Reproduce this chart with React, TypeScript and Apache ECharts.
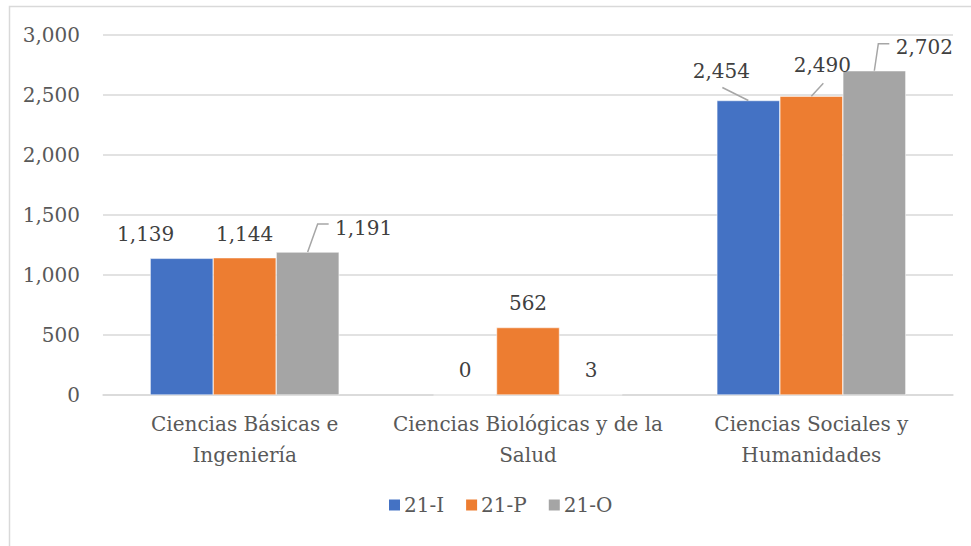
import React, { useEffect, useRef } from "react";
import * as echarts from "echarts";

const categories = [
  "Ciencias Básicas e\nIngeniería",
  "Ciencias Biológicas y de la\nSalud",
  "Ciencias Sociales y\nHumanidades",
];
const seriesNames = ["21-I", "21-P", "21-O"];
const values21I = [1139, 0, 2454];
const values21P = [1144, 562, 2490];
const values21O = [1191, 3, 2702];
const yTicks = [0, 500, 1000, 1500, 2000, 2500, 3000];

const colors = ["#4472C4", "#ED7D31", "#A5A5A5"];
// label offsets (dx, dy) per series / category, like manually moved Excel labels
const labelOffsets = [
  [[-36, 1], [0, 0], [-27, -5]],
  [[0, 1], [0, 0], [11, -6]],
  [[56, 1], [0, 0], [50, 1]],
];
// leader line shapes, relative to the top centre of the bar: [series, category, points]
const leaders: [number, number, number[][]][] = [
  [2, 0, [[0, 0], [10, -28], [21, -28]]],
  [0, 2, [[0, 0], [-26, -13]]],
  [1, 2, [[0, 0], [12, -13]]],
  [2, 2, [[0, 0], [4, -27], [15, -27]]],
];

const FONT = "DejaVu Serif";
const TEXT = "#595959";
const FS = 20;
const CAT_GAP = 0.333;

export default function App() {
  const ref = useRef<HTMLDivElement>(null);
  useEffect(() => {
    document.body.style.margin = "0";
    const chart = echarts.init(ref.current!, null, { renderer: "svg" });
    const all = [values21I, values21P, values21O];
    chart.setOption({
      animation: false,
      backgroundColor: "#fff",
      graphic: [
        {
          id: "border",
          type: "rect",
          shape: { x: 9.5, y: 6.5, width: 1000, height: 1000 },
          style: { fill: "none", stroke: "#D9D9D9", lineWidth: 1.5 },
          silent: true,
        },
      ],
      grid: { left: 103, right: 18, top: 35, bottom: 151 },
      legend: {
        data: seriesNames,
        bottom: 26,
        left: 382,
        itemWidth: 13,
        itemHeight: 13,
        itemGap: 20,
        icon: "rect",
        textStyle: { fontFamily: FONT, fontSize: FS, color: TEXT, padding: [0, 0, 0, -2] },
      },
      xAxis: {
        type: "category",
        data: categories,
        axisTick: { show: false },
        axisLine: { lineStyle: { color: "#D9D9D9", width: 1.5 } },
        axisLabel: {
          fontFamily: FONT,
          fontSize: FS,
          color: TEXT,
          lineHeight: 31,
          margin: 13,
          interval: 0,
        },
      },
      yAxis: {
        type: "value",
        min: yTicks[0],
        max: yTicks[yTicks.length - 1],
        interval: 500,
        axisLine: { show: false },
        axisTick: { show: false },
        splitLine: { lineStyle: { color: "#D9D9D9", width: 1.5 } },
        axisLabel: {
          fontFamily: FONT,
          fontSize: FS,
          color: TEXT,
          margin: 23,
          formatter: (v: number) => v.toLocaleString("en-US"),
        },
      },
      series: all.map((vals, si) => ({
        name: seriesNames[si],
        type: "bar",
        barGap: "0%",
        barCategoryGap: CAT_GAP * 100 + "%",
        itemStyle: { color: colors[si], borderColor: "#fff", borderWidth: 0.5 },
        data: vals,
        label: {
          show: true,
          position: "top",
          distance: 15,
          fontFamily: FONT,
          fontSize: FS,
          color: "#404040",
          formatter: (p: any) => Number(p.value).toLocaleString("en-US"),
        },
        labelLayout: (p: any) => ({
          dx: labelOffsets[p.seriesIndex][p.dataIndex][0],
          dy: labelOffsets[p.seriesIndex][p.dataIndex][1],
        }),
      })),
    });

    // leader lines anchored on bar tops computed from the chart's own scales
    const c0 = chart.convertToPixel({ xAxisIndex: 0 }, 0) as number;
    const c1 = chart.convertToPixel({ xAxisIndex: 0 }, 1) as number;
    const catW = c1 - c0;
    const barW = (catW * (1 - CAT_GAP)) / 3;
    const lines = leaders.map(([si, ci, pts], i) => {
      const cx = (chart.convertToPixel({ xAxisIndex: 0 }, ci) as number) + (si - 1) * barW;
      const top = chart.convertToPixel({ yAxisIndex: 0 }, all[si][ci]) as number;
      return {
        id: "leader" + i,
        type: "polyline",
        shape: { points: pts.map(([dx, dy]) => [cx + dx, top + dy]) },
        style: { stroke: "#A6A6A6", lineWidth: 1.5, fill: "none" },
        silent: true,
        z: 10,
      };
    });
    chart.setOption({ graphic: lines });
    return () => chart.dispose();
  }, []);
  return <div ref={ref} style={{ width: 971, height: 546 }} />;
}
